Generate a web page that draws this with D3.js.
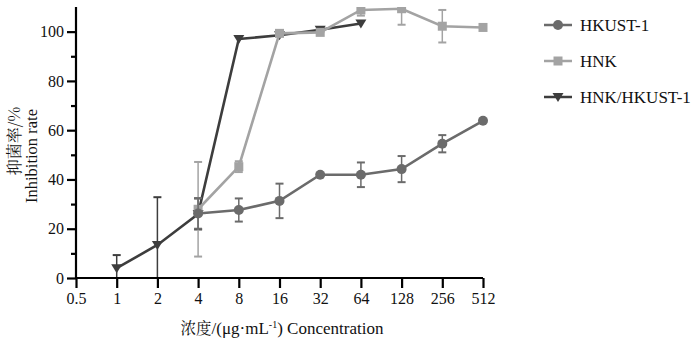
<!DOCTYPE html>
<html><head><meta charset="utf-8">
<script src="https://cdn.jsdelivr.net/npm/d3@7"></script>
</head><body style="margin:0;background:#fff"><svg id="c" width="700" height="342" style="display:block"></svg>
<script>
const concTicks = [0.5, 1, 2, 4, 8, 16, 32, 64, 128, 256, 512];
const yMajor = [0, 20, 40, 60, 80, 100];
const yMinor = [10, 30, 50, 70, 90];
const seriesNames = ["HKUST-1", "HNK", "HNK/HKUST-1"];
const hkustX = [4, 8, 16, 32, 64, 128, 256, 512];
const hkustY = [26.2, 27.6, 31.3, 41.9, 41.9, 44.2, 54.5, 63.8];
const hkustErr = [6.2, 4.7, 7.0, 0, 5.0, 5.3, 3.5, 0];
const hnkX = [4, 8, 16, 32, 64, 128, 256, 512];
const hnkY = [27.9, 45.2, 99.3, 99.7, 108.8, 109.3, 102.2, 101.7];
const hnkErr = [19.2, 2.2, 0, 0, 2.3, 6.5, 6.6, 0];
const comboX = [1, 2, 4, 8, 16, 32, 64];
const comboY = [4.0, 13.4, 26.0, 97.0, 98.5, 100.8, 103.3];
const comboErr = [5.3, 19.4, 6.3, 0, 0, 0.9, 0];

const SERIF = "Liberation Serif";
const CJK = "Noto Serif CJK SC";

const svg = d3.select("#c");
const x = d3.scaleLog().base(2).domain([0.5, 512]).range([76, 483]);
const y = d3.scaleLinear().domain([0, 110]).range([278, 7]);

svg.append("defs").append("clipPath").attr("id","clip").append("rect")
  .attr("x", 60).attr("y", y(110)).attr("width", 500).attr("height", y(0)-y(110));

const series = [
  {name: seriesNames[2], xs: comboX, ys: comboY, es: comboErr, color: "#3d3d3d", sym: "tri"},
  {name: seriesNames[1], xs: hnkX, ys: hnkY, es: hnkErr, color: "#a3a3a3", sym: "sq"},
  {name: seriesNames[0], xs: hkustX, ys: hkustY, es: hkustErr, color: "#6b6b6b", sym: "circ"}
];

function marker(g, sym, cx, cy, color) {
  if (sym === "circ") g.append("circle").attr("cx", cx).attr("cy", cy).attr("r", 5).attr("fill", color);
  else if (sym === "sq") g.append("rect").attr("x", cx-4.5).attr("y", cy-4.5).attr("width", 9).attr("height", 9).attr("fill", color);
  else g.append("path").attr("d", `M${cx-5.5},${cy-4} L${cx+5.5},${cy-4} L${cx},${cy+5} Z`).attr("fill", color);
}

const plot = svg.append("g").attr("clip-path", "url(#clip)");
series.forEach(s => {
  const g = plot.append("g");
  const pts = s.xs.map((v, i) => [x(v), y(s.ys[i])]);
  s.xs.forEach((v, i) => {
    const e = s.es[i]; if (!e) return;
    const cx = x(v), y1 = y(s.ys[i] + e), y2 = y(Math.max(s.ys[i] - e, -5));
    g.append("line").attr("x1", cx).attr("x2", cx).attr("y1", y1).attr("y2", y2).attr("stroke", s.color).attr("stroke-width", 1.5);
    [s.ys[i] + e, s.ys[i] - e].forEach(vv => {
      g.append("line").attr("x1", cx-4).attr("x2", cx+4).attr("y1", y(vv)).attr("y2", y(vv)).attr("stroke", s.color).attr("stroke-width", 2);
    });
  });
  g.append("path").attr("d", d3.line()(pts)).attr("fill", "none").attr("stroke", s.color).attr("stroke-width", 2.6);
  pts.forEach(p => marker(g, s.sym, p[0], p[1], s.color));
});

// axes
const xAxis = svg.append("g").attr("transform", `translate(0,${y(0)})`)
  .call(d3.axisBottom(x).tickValues(concTicks).tickFormat(d => String(d)).tickSize(10).tickPadding(5));
const yAxis = svg.append("g").attr("transform", `translate(${x(0.5)},0)`)
  .call(d3.axisLeft(y).tickValues(yMajor).tickSize(9).tickPadding(3));
svg.append("g").attr("transform", `translate(${x(0.5)},0)`)
  .call(d3.axisLeft(y).tickValues(yMinor).tickSize(5).tickFormat(""))
  .select(".domain").remove();
[xAxis, yAxis].forEach(a => {
  a.attr("font-family", SERIF).attr("font-size", 16);
  a.select(".domain").attr("stroke", "#000").attr("stroke-width", 2.2);
  a.selectAll(".tick text").style("font-size", "16px").style("font-family", SERIF).attr("fill", "#111");
});
svg.selectAll(".tick line").attr("stroke", "#000").attr("stroke-width", 2.2);
yAxis.select(".domain").attr("d", `M-0,${y(110)}V${y(0)}`);
xAxis.select(".domain").attr("d", `M${x(0.5)},0H${x(512)}`);

// titles
svg.append("text").attr("transform", "translate(20,141) rotate(-90)").attr("text-anchor", "middle")
  .style("font-size", "16px").style("font-family", CJK).attr("fill", "#111").text("抑菌率/%");
svg.append("text").attr("transform", "translate(37,156) rotate(-90)").attr("text-anchor", "middle")
  .style("font-size", "16.5px").style("font-family", SERIF).attr("fill", "#111").text("Inhibition rate");

const xt = svg.append("text").attr("x", 282).attr("y", 334).attr("text-anchor", "middle")
  .style("font-size", "17px").style("font-family", SERIF).attr("fill", "#111");
xt.append("tspan").style("font-family", CJK).style("font-size", "15.5px").text("浓度");
xt.append("tspan").style("font-family", SERIF).text("/(μg·mL");
xt.append("tspan").style("font-family", SERIF).style("font-size", "10px").attr("dy", -6).text("-1");
xt.append("tspan").style("font-family", SERIF).attr("dy", 6).text(") Concentration");

// legend
const legendOrder = [series[2], series[1], series[0]];
legendOrder.forEach((s, i) => {
  const ly = 25 + i * 36;
  const g = svg.append("g");
  g.append("line").attr("x1", 544).attr("x2", 572).attr("y1", ly).attr("y2", ly).attr("stroke", s.color).attr("stroke-width", 2.5);
  marker(g, s.sym, 558, ly, s.color);
  g.append("text").attr("x", 580).attr("y", ly + 5.5).style("font-size", "17px").style("font-family", SERIF).attr("fill", "#111").text(s.name);
});
</script></body></html>
